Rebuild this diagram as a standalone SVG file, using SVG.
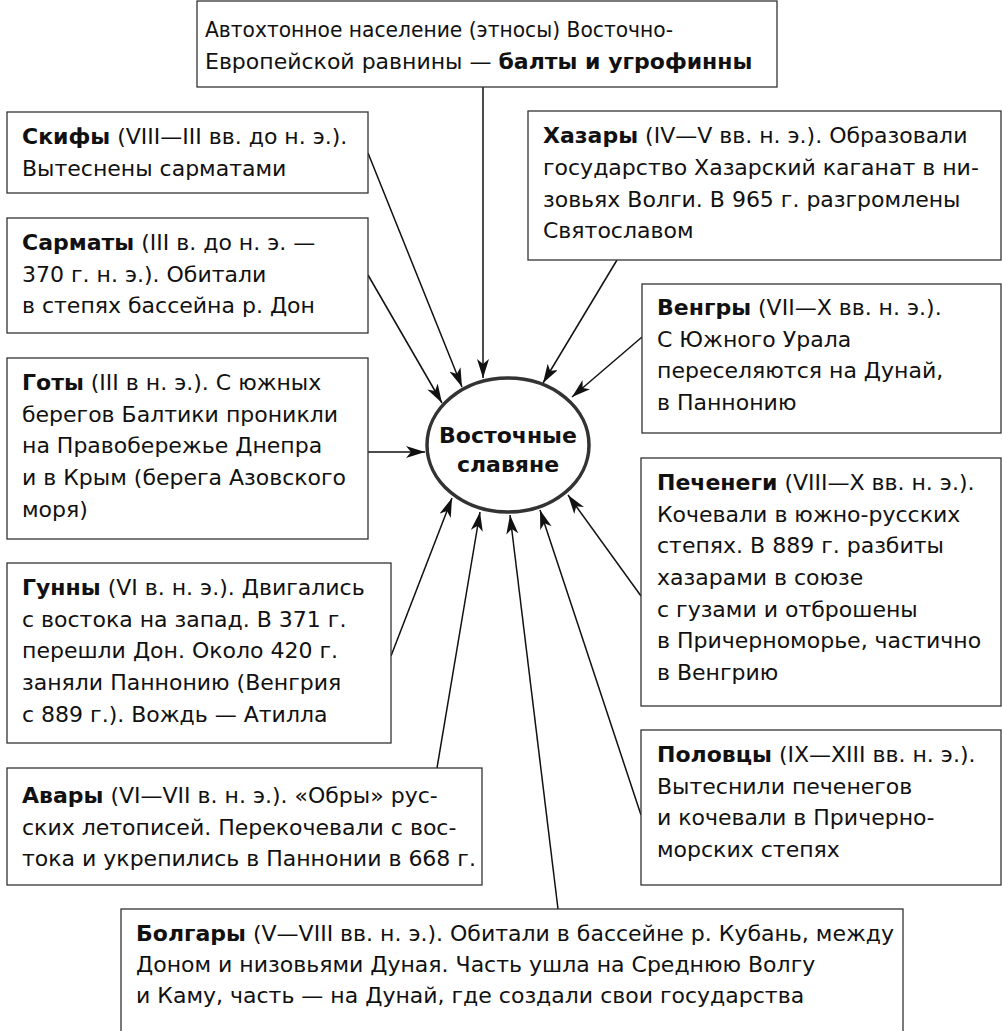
<svg xmlns="http://www.w3.org/2000/svg" width="1002" height="1031" viewBox="0 0 1002 1031">
<style>
.box{fill:#fff;stroke:#333;stroke-width:1.3}
.t{font-family:"DejaVu Sans","Liberation Sans",sans-serif;font-size:22px;fill:#111}
.b{font-weight:bold}
.ctr{text-anchor:middle}
.ln{stroke:#111;stroke-width:1.5;fill:none;marker-end:url(#ah)}
</style>
<defs>
<marker id="ah" markerUnits="userSpaceOnUse" markerWidth="22" markerHeight="14" refX="19" refY="6" orient="auto">
<path d="M0,0 L19,6 L0,12 L5,6 Z" fill="#111"/>
</marker>
</defs>
<rect width="1002" height="1031" fill="#fff"/>

<g id="connectors">
<line class="ln" x1="483" y1="87" x2="483" y2="378"/>
<line class="ln" x1="368" y1="153" x2="462" y2="387"/>
<line class="ln" x1="368" y1="275" x2="442" y2="403"/>
<line class="ln" x1="368" y1="452" x2="425" y2="452"/>
<line class="ln" x1="391" y1="656" x2="452" y2="498"/>
<line class="ln" x1="437" y1="768" x2="480" y2="512"/>
<line class="ln" x1="558" y1="909" x2="510" y2="515"/>
<line class="ln" x1="641" y1="815" x2="540" y2="510"/>
<line class="ln" x1="641" y1="596" x2="568" y2="495"/>
<line class="ln" x1="642" y1="337" x2="572" y2="397"/>
<line class="ln" x1="617" y1="260" x2="543" y2="383"/>
</g>

<g id="center">
<ellipse cx="508" cy="445" rx="81" ry="67" fill="#fff" stroke="#333" stroke-width="3.5"/>
<text class="t b ctr" x="508" y="443">Восточные</text>
<text class="t b ctr" x="508" y="472">славяне</text>
</g>

<g id="autochthons">
<rect class="box" x="197" y="1" width="580" height="86"/>
<text class="t" x="205" y="37" textLength="468" lengthAdjust="spacingAndGlyphs">Автохтонное население (этносы) Восточно-</text>
<text class="t" x="205" y="69">Европейской равнины — <tspan class="b">балты и угрофинны</tspan></text>
</g>

<g id="scythians">
<rect class="box" x="7" y="112" width="361" height="81"/>
<text class="t" x="22" y="144"><tspan class="b">Скифы</tspan> (VIII—III вв. до н. э.).</text>
<text class="t" x="22" y="176">Вытеснены сарматами</text>
</g>

<g id="sarmatians">
<rect class="box" x="7" y="218" width="361" height="115"/>
<text class="t" x="22" y="250"><tspan class="b">Сарматы</tspan> (III в. до н. э. —</text>
<text class="t" x="22" y="282">370 г. н. э.). Обитали</text>
<text class="t" x="22" y="313">в степях бассейна р. Дон</text>
</g>

<g id="goths">
<rect class="box" x="7" y="358" width="361" height="181"/>
<text class="t" x="22" y="390"><tspan class="b">Готы</tspan> (III в н. э.). С южных</text>
<text class="t" x="22" y="422">берегов Балтики проникли</text>
<text class="t" x="22" y="453">на Правобережье Днепра</text>
<text class="t" x="22" y="485">и в Крым (берега Азовского</text>
<text class="t" x="22" y="517">моря)</text>
</g>

<g id="huns">
<rect class="box" x="7" y="563" width="384" height="180"/>
<text class="t" x="22" y="595"><tspan class="b">Гунны</tspan> (VI в. н. э.). Двигались</text>
<text class="t" x="22" y="627">с востока на запад. В 371 г.</text>
<text class="t" x="22" y="658">перешли Дон. Около 420 г.</text>
<text class="t" x="22" y="690">заняли Паннонию (Венгрия</text>
<text class="t" x="22" y="722">с 889 г.). Вождь — Атилла</text>
</g>

<g id="avars">
<rect class="box" x="7" y="768" width="475" height="117"/>
<text class="t" x="22" y="803"><tspan class="b">Авары</tspan> (VI—VII в. н. э.). «Обры» рус-</text>
<text class="t" x="22" y="835">ских летописей. Перекочевали с вос-</text>
<text class="t" x="22" y="866">тока и укрепились в Паннонии в 668 г.</text>
</g>

<g id="bulgars">
<rect class="box" x="121" y="909" width="782" height="140"/>
<text class="t" x="136" y="941"><tspan class="b">Болгары</tspan> (V—VIII вв. н. э.). Обитали в бассейне р. Кубань, между</text>
<text class="t" x="136" y="972">Доном и низовьями Дуная. Часть ушла на Среднюю Волгу</text>
<text class="t" x="136" y="1003">и Каму, часть — на Дунай, где создали свои государства</text>
</g>

<g id="khazars">
<rect class="box" x="528" y="111" width="473" height="149"/>
<text class="t" x="543" y="143"><tspan class="b">Хазары</tspan> (IV—V вв. н. э.). Образовали</text>
<text class="t" x="543" y="175">государство Хазарский каганат в ни-</text>
<text class="t" x="543" y="207">зовьях Волги. В 965 г. разгромлены</text>
<text class="t" x="543" y="238">Святославом</text>
</g>

<g id="hungarians">
<rect class="box" x="642" y="284" width="359" height="149"/>
<text class="t" x="657" y="315"><tspan class="b">Венгры</tspan> (VII—X вв. н. э.).</text>
<text class="t" x="657" y="347">С Южного Урала</text>
<text class="t" x="657" y="378">переселяются на Дунай,</text>
<text class="t" x="657" y="410">в Паннонию</text>
</g>

<g id="pechenegs">
<rect class="box" x="641" y="458" width="360" height="248"/>
<text class="t" x="657" y="490"><tspan class="b">Печенеги</tspan> (VIII—X вв. н. э.).</text>
<text class="t" x="657" y="522">Кочевали в южно-русских</text>
<text class="t" x="657" y="553">степях. В 889 г. разбиты</text>
<text class="t" x="657" y="585">хазарами в союзе</text>
<text class="t" x="657" y="617">с гузами и отброшены</text>
<text class="t" x="657" y="648">в Причерноморье, частично</text>
<text class="t" x="657" y="680">в Венгрию</text>
</g>

<g id="polovtsians">
<rect class="box" x="641" y="730" width="360" height="155"/>
<text class="t" x="657" y="762"><tspan class="b">Половцы</tspan> (IX—XIII вв. н. э.).</text>
<text class="t" x="657" y="794">Вытеснили печенегов</text>
<text class="t" x="657" y="825">и кочевали в Причерно-</text>
<text class="t" x="657" y="857">морских степях</text>
</g>
</svg>
